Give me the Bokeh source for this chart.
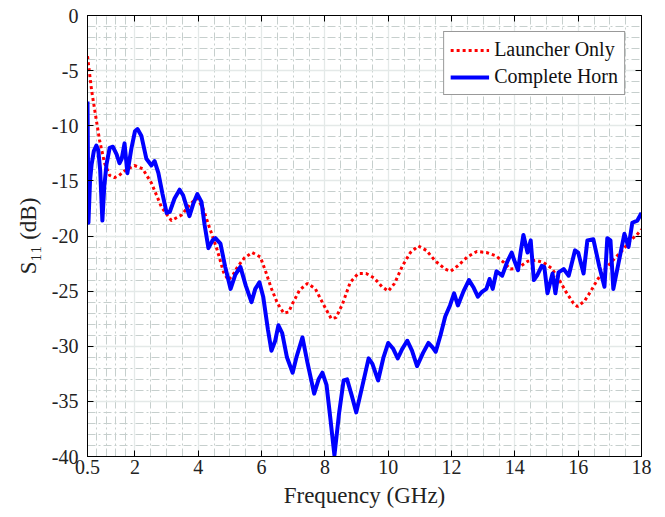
import numpy as np
from bokeh.plotting import figure
from bokeh.models import FixedTicker, LinearAxis, Range1d
from bokeh.embed import file_html
from bokeh.resources import INLINE

# ---- data ----
freq_launcher = [0.5, 0.63, 0.78, 0.88, 1.04, 1.2, 1.35, 1.5, 1.67, 1.98, 2.24, 2.52, 2.84,
                 3.15, 3.47, 3.78, 3.97, 4.15, 4.35, 4.6, 4.8, 4.95, 5.1, 5.24, 5.45, 5.7,
                 5.96, 6.15, 6.3, 6.5, 6.7, 6.85, 7.0, 7.2, 7.45, 7.7, 7.95, 8.2, 8.35, 8.55,
                 8.8, 9.05, 9.3, 9.55, 9.8, 10.0, 10.2, 10.45, 10.7, 10.95, 11.2, 11.5, 11.8,
                 11.97, 12.2, 12.5, 12.8, 13.1, 13.4, 13.65, 13.86, 14.1, 14.4, 14.65, 14.9,
                 15.15, 15.35, 15.6, 15.85, 15.98, 16.2, 16.4, 16.6, 16.85, 17.1, 17.4, 17.65,
                 17.85, 18.0]
s11_launcher = [-3.7, -6.8, -9.5, -11.3, -13.4, -14.5, -14.7, -14.5, -14.1, -13.6, -13.9, -15.2,
                -17.4, -18.6, -18.1, -17.0, -16.6, -17.5, -19.2, -21.3, -23.3, -24.0, -23.5,
                -22.8, -22.0, -21.5, -21.9, -23.4, -24.7, -26.1, -27.0, -26.9, -26.0, -24.9,
                -24.3, -24.8, -26.2, -27.5, -27.4, -26.2, -24.2, -23.4, -23.4, -23.8, -24.6,
                -25.0, -24.3, -22.7, -21.5, -20.9, -21.3, -22.3, -23.0, -23.2, -22.7, -21.9,
                -21.4, -21.5, -21.8, -22.4, -23.0, -22.9, -22.3, -22.2, -22.4, -22.9, -23.7,
                -25.0, -26.1, -26.4, -25.9, -25.0, -24.0, -23.0, -22.2, -21.3, -20.4, -19.9,
                -19.4]

freq_horn = [0.5, 0.53, 0.58, 0.63, 0.7, 0.78, 0.84, 0.9, 0.97, 1.03, 1.1, 1.2, 1.3, 1.42, 1.51,
             1.58, 1.67, 1.76, 1.89, 2.0, 2.08, 2.2, 2.36, 2.52, 2.62, 2.74, 2.87, 3.0, 3.1,
             3.25, 3.41, 3.52, 3.72, 3.85, 3.97, 4.1, 4.2, 4.32, 4.45, 4.54, 4.7, 4.85, 5.02,
             5.17, 5.33, 5.5, 5.68, 5.8, 5.93, 6.05, 6.2, 6.31, 6.43, 6.53, 6.65, 6.8, 6.98,
             7.1, 7.29, 7.45, 7.66, 7.8, 7.92, 8.05, 8.17, 8.3, 8.45, 8.59, 8.7, 8.85, 8.99,
             9.15, 9.38, 9.5, 9.68, 9.85, 10.0, 10.15, 10.3, 10.45, 10.6, 10.75, 10.91, 11.1,
             11.27, 11.4, 11.5, 11.65, 11.8, 11.95, 12.08, 12.2, 12.38, 12.55, 12.7, 12.83,
             12.95, 13.1, 13.2, 13.3, 13.42, 13.6, 13.75, 13.9, 13.98, 14.1, 14.18, 14.27,
             14.4, 14.5, 14.6, 14.7, 14.85, 14.93, 15.03, 15.19, 15.28, 15.38, 15.54, 15.7,
             15.9, 16.0, 16.17, 16.29, 16.48, 16.67, 16.83, 16.92, 17.02, 17.11, 17.46, 17.59,
             17.71, 17.87, 18.0]
s11_horn = [-7.8, -18.8, -15.0, -13.5, -12.3, -11.8, -12.2, -14.0, -18.6, -15.5, -13.5, -12.0,
            -11.9, -12.6, -13.4, -13.0, -11.6, -14.3, -12.0, -10.5, -10.3, -10.9, -13.0, -13.6,
            -13.2, -14.3, -16.2, -17.9, -17.8, -16.6, -15.8, -16.3, -18.2, -17.0, -16.2, -16.9,
            -19.0, -21.1, -20.4, -20.2, -20.7, -22.8, -24.8, -23.5, -22.8, -24.5, -26.0, -24.8,
            -24.2, -25.5, -28.5, -30.4, -29.5, -28.1, -28.8, -31.0, -32.4, -31.0, -29.2, -31.5,
            -34.3, -33.0, -32.4, -33.5, -36.5, -39.9, -36.0, -33.1, -33.0, -34.5, -36.0, -34.0,
            -31.1, -31.6, -33.1, -31.0, -29.7, -30.2, -31.1, -30.2, -29.5, -30.4, -31.8, -30.6,
            -29.7, -30.1, -30.5, -29.0, -27.3, -26.3, -25.2, -26.3, -25.0, -24.0, -24.7, -25.5,
            -25.1, -24.8, -23.9, -24.8, -23.2, -23.6, -22.4, -21.5, -22.2, -23.1, -21.5, -19.9,
            -21.5, -20.4, -24.0, -23.6, -22.7, -22.8, -25.2, -23.4, -25.2, -23.3, -23.0, -23.6,
            -21.3, -21.5, -23.4, -20.4, -20.3, -22.8, -24.6, -20.2, -20.4, -24.8, -19.8, -21.0,
            -18.8, -18.6, -17.9]

x_ticks = [0.5, 2, 4, 6, 8, 10, 12, 14, 16, 18]
x_tick_labels = ["0.5", "2", "4", "6", "8", "10", "12", "14", "16", "18"]
x_minor = [0.8, 1.1, 1.4, 1.7] + [v / 2 for v in range(5, 36) if v % 4 != 0]
y_ticks = [0, -5, -10, -15, -20, -25, -30, -35, -40]
y_tick_labels = ["0", "-5", "-10", "-15", "-20", "-25", "-30", "-35", "-40"]
y_minor = [v for v in range(-40, 1) if v % 5 != 0]

FONT = "Liberation Serif"
TXT = "#222222"

p = figure(width=665, height=517, x_range=Range1d(0.5, 18), y_range=Range1d(-40, 0),
           output_backend="svg", toolbar_location=None,
           min_border_left=87, min_border_right=24, min_border_top=15, min_border_bottom=61)
p.background_fill_color = "white"
p.border_fill_color = "white"
p.outline_line_color = "black"
p.outline_line_width = 1

xt = FixedTicker(ticks=x_ticks, minor_ticks=x_minor)
yt = FixedTicker(ticks=y_ticks, minor_ticks=y_minor)

for ax, ticker, ticks, labels in ((p.xaxis[0], xt, x_ticks, x_tick_labels),
                                  (p.yaxis[0], yt, y_ticks, y_tick_labels)):
    ax.ticker = ticker
    ax.major_label_overrides = {t: l for t, l in zip(ticks, labels)}
    ax.major_tick_in = 6
    ax.major_tick_out = 0
    ax.minor_tick_in = 0
    ax.minor_tick_out = 0
    ax.axis_line_color = "black"
    ax.major_tick_line_color = "black"
    ax.major_label_text_font = FONT
    ax.major_label_text_font_size = "20px"
    ax.major_label_text_color = TXT
    ax.axis_label_text_font = FONT
    ax.axis_label_text_font_size = "23px"
    ax.axis_label_text_font_style = "normal"
    ax.axis_label_text_color = TXT

p.xaxis[0].major_label_standoff = 3
p.yaxis[0].major_label_standoff = 9
p.xaxis[0].axis_label = "Frequency (GHz)"
p.xaxis[0].axis_label_standoff = 6
p.yaxis[0].axis_label = "S\u2081\u2081 (dB)"
p.yaxis[0].axis_label_standoff = 8

# top and right tick marks (box), without labels
for loc, ticker in (("above", FixedTicker(ticks=x_ticks)), ("right", FixedTicker(ticks=y_ticks))):
    ax = LinearAxis(ticker=ticker, major_tick_in=6, major_tick_out=0, minor_tick_in=0,
                    minor_tick_out=0, major_label_text_font_size="0px",
                    major_label_text_color=None, major_label_standoff=0,
                    axis_line_color="black", major_tick_line_color="black")
    p.add_layout(ax, loc)

# grid
p.xgrid[0].ticker = xt
p.ygrid[0].ticker = yt
for g in (p.xgrid[0], p.ygrid[0]):
    g.grid_line_color = "#e4e9e8"
    g.grid_line_width = 1.3
    g.minor_grid_line_color = "#c6cfcd"
    g.minor_grid_line_width = 1
    g.minor_grid_line_dash = "8 3 2 3"

p.line(freq_launcher, s11_launcher, line_color="#ff0000", line_width=3, line_dash="3 3",
       legend_label="Launcher Only")
p.line(freq_horn, s11_horn, line_color="#0000ff", line_width=4, line_join="round",
       legend_label="Complete Horn")

lg = p.legend[0]
lg.location = "top_right"
lg.margin = 16
lg.padding = 6
lg.spacing = 4
lg.glyph_width = 39
lg.glyph_height = 20
lg.label_height = 20
lg.label_standoff = 5
lg.label_text_font = FONT
lg.label_text_font_size = "20px"
lg.label_text_color = "#111111"
lg.border_line_color = "#333333"
lg.border_line_width = 1
lg.background_fill_color = "white"
lg.background_fill_alpha = 1

open("out.html", "w").write(file_html(p, INLINE))
